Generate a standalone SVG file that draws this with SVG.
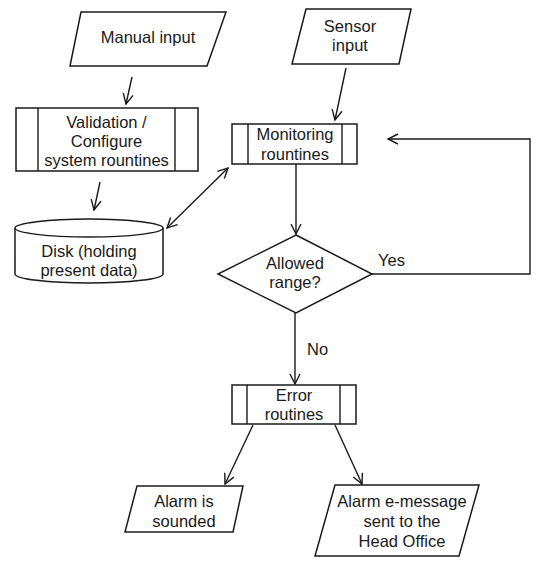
<svg xmlns="http://www.w3.org/2000/svg" width="555" height="569" viewBox="0 0 555 569">
<defs>
<style>
.s{fill:#fff;stroke:#1a1a1a;stroke-width:1.5}
.l{fill:none;stroke:#1a1a1a;stroke-width:1.4}
.t{font-family:"Liberation Sans",Arial,sans-serif;font-size:16.5px;fill:#1a1a1a;text-anchor:middle}
.ts{font-family:"Liberation Sans",Arial,sans-serif;font-size:16.5px;fill:#1a1a1a}
.c{fill:none;stroke:#1a1a1a;stroke-width:1.4}
</style>
<marker id="arr" viewBox="-12 -7 14 14" refX="0" refY="0" markerWidth="14" markerHeight="14" markerUnits="userSpaceOnUse" orient="auto-start-reverse">
<path d="M-10,-5 L0,0 L-10,5" fill="none" stroke="#1a1a1a" stroke-width="1.4"/>
</marker>
</defs>
<rect width="555" height="569" fill="#fff"/>
<g id="connectors">
<line class="c" x1="132" y1="77" x2="126" y2="104" marker-end="url(#arr)"/>
<line class="c" x1="100" y1="182" x2="94" y2="210" marker-end="url(#arr)"/>
<line class="c" x1="167" y1="228" x2="228" y2="168" marker-start="url(#arr)" marker-end="url(#arr)"/>
<line class="c" x1="346" y1="68" x2="335" y2="120" marker-end="url(#arr)"/>
<line class="c" x1="296" y1="164" x2="296" y2="234" marker-end="url(#arr)"/>
<polyline class="c" points="372,274 530,274 530,139 388,139" marker-end="url(#arr)"/>
<line class="c" x1="295" y1="313" x2="295" y2="384" marker-end="url(#arr)"/>
<line class="c" x1="253" y1="425" x2="225" y2="484" marker-end="url(#arr)"/>
<line class="c" x1="335" y1="425" x2="362" y2="484" marker-end="url(#arr)"/>
<text class="ts" x="378" y="266">Yes</text>
<text class="ts" x="307" y="355">No</text>
</g>
<g id="manual-input">
<polygon class="s" points="81,12 226,12 207,66 70,66"/>
<text class="t" x="148" y="43">Manual input</text>
</g>
<g id="validation">
<rect class="s" x="16" y="108" width="182" height="63"/>
<line class="l" x1="38" y1="108" x2="38" y2="171"/>
<line class="l" x1="175" y1="108" x2="175" y2="171"/>
<text class="t" x="106.5" y="128">Validation /</text>
<text class="t" x="106.5" y="147">Configure</text>
<text class="t" x="106.5" y="166">system rountines</text>
</g>
<g id="disk">
<path class="s" d="M15,228 A74,9 0 0 1 163,228 L163,274 A74,9 0 0 1 15,274 Z"/>
<path class="l" d="M15,228 A74,9 0 0 0 163,228"/>
<text class="t" x="89" y="257">Disk (holding</text>
<text class="t" x="89" y="276">present data)</text>
</g>
<g id="sensor-input">
<polygon class="s" points="306,9 411,9 399,64 292,64"/>
<text class="t" x="350" y="32">Sensor</text>
<text class="t" x="350" y="51">input</text>
</g>
<g id="monitoring">
<rect class="s" x="232" y="124" width="125" height="40"/>
<line class="l" x1="248" y1="124" x2="248" y2="164"/>
<line class="l" x1="342" y1="124" x2="342" y2="164"/>
<text class="t" x="295" y="140">Monitoring</text>
<text class="t" x="295" y="160">rountines</text>
</g>
<g id="allowed-range">
<polygon class="s" points="296,235 372,274 296,313 218,274"/>
<text class="t" x="295" y="269">Allowed</text>
<text class="t" x="295" y="288">range?</text>
</g>
<g id="error">
<rect class="s" x="232" y="385" width="124" height="39"/>
<line class="l" x1="247" y1="385" x2="247" y2="424"/>
<line class="l" x1="340" y1="385" x2="340" y2="424"/>
<text class="t" x="294" y="401">Error</text>
<text class="t" x="294" y="420">routines</text>
</g>
<g id="alarm-sounded">
<polygon class="s" points="137,486 243,486 233,532 125,532"/>
<text class="t" x="184" y="507">Alarm is</text>
<text class="t" x="184" y="527">sounded</text>
</g>
<g id="alarm-message">
<polygon class="s" points="335,485 479,485 459,556 315,556"/>
<text class="t" x="402" y="507">Alarm e-message</text>
<text class="t" x="402" y="527">sent to the</text>
<text class="t" x="402" y="547">Head Office</text>
</g>
</svg>
